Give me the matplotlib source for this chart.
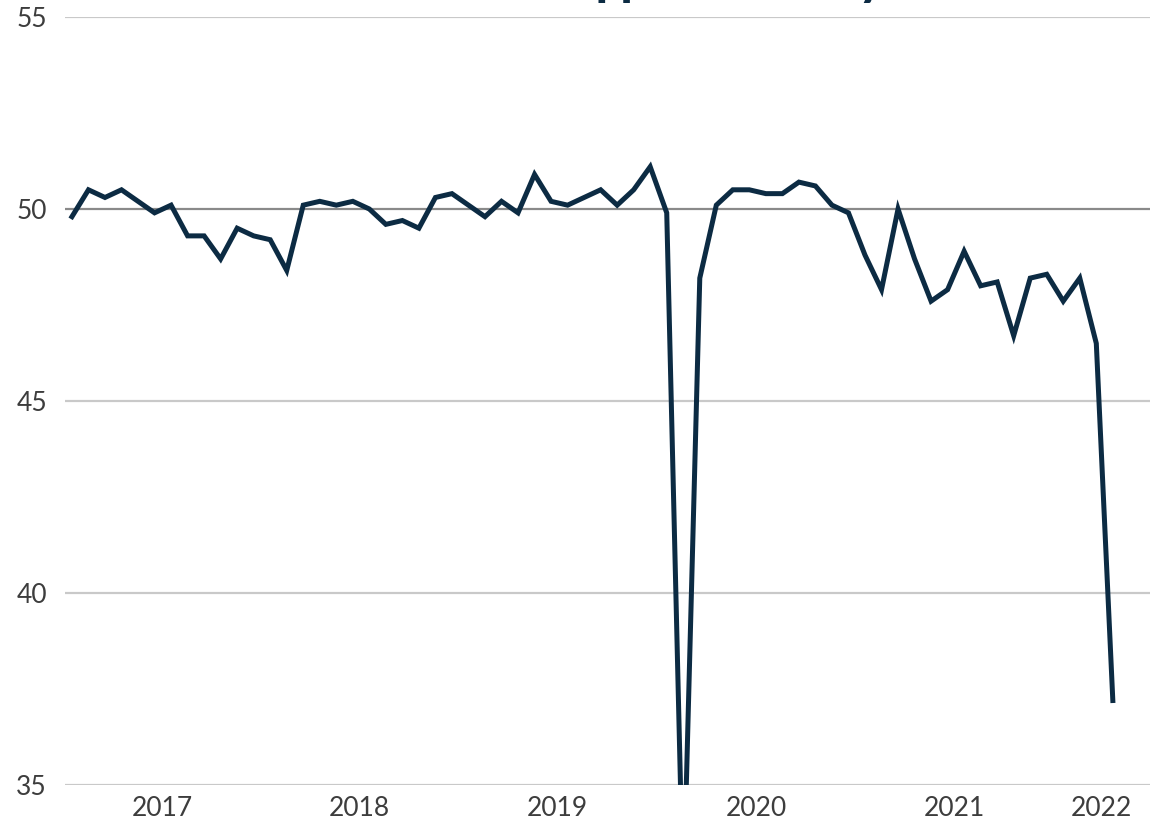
import matplotlib
matplotlib.use("Agg")
import matplotlib.pyplot as plt
import numpy as np

# ---- data ----
years = ["2017", "2018", "2019", "2020", "2021", "2022"]
start_year = 2017
# monthly values Jan 2017 .. Apr 2022
values_2017 = [49.8, 50.5, 50.3, 50.5, 50.2, 49.9, 50.1, 49.3, 49.3, 48.7, 49.5, 49.3]
values_2018 = [49.2, 48.4, 50.1, 50.2, 50.1, 50.2, 50.0, 49.6, 49.7, 49.5, 50.3, 50.4]
values_2019 = [50.1, 49.8, 50.2, 49.9, 50.9, 50.2, 50.1, 50.3, 50.5, 50.1, 50.5, 51.1]
values_2020 = [49.9, 32.0, 48.2, 50.1, 50.5, 50.5, 50.4, 50.4, 50.7, 50.6, 50.1, 49.9]
values_2021 = [48.8, 47.9, 50.0, 48.7, 47.6, 47.9, 48.9, 48.0, 48.1, 46.7, 48.2, 48.3]
values_2022 = [47.6, 48.2, 46.5, 37.2]
y_ticks = [35, 40, 45, 50, 55]
title = "Supplier Delivery"

values = values_2017 + values_2018 + values_2019 + values_2020 + values_2021 + values_2022
x = np.arange(len(values))

navy = "#0c2b43"
plt.rcParams["font.family"] = ["Lato", "DejaVu Sans"]

fig = plt.figure(figsize=(11.5, 8.19), dpi=100)
ax = fig.add_axes([65 / 1150, 34 / 819, 1 - 65 / 1150, (785 - 17) / 819])

xmin, xmax = -0.42, 65.25
ax.set_xlim(xmin, xmax)
ax.set_ylim(35, 55)

for t in y_ticks:
    if t == 50:
        ax.axhline(t, color="#8a8a8a", lw=1.6, zorder=1)
    else:
        ax.axhline(t, color="#c9c9c9", lw=1.6, zorder=1)

ax.plot(x, values, color=navy, lw=3.6, solid_joinstyle="miter", zorder=3)

ax.set_yticks(y_ticks)
ax.set_yticklabels([str(t) for t in y_ticks])

# year labels centred on the visible span of each year
centers = []
for i, _ in enumerate(years):
    s = max(12 * i - 0.6, xmin)
    e = min(12 * i + 11.4, xmax)
    centers.append((s + e) / 2)
ax.set_xticks(centers)
ax.set_xticklabels(years)

ax.tick_params(axis="both", length=0, labelsize=19, labelcolor="#3d3d3d")
ax.tick_params(axis="y", pad=13)
ax.tick_params(axis="x", pad=8)
for sp in ax.spines.values():
    sp.set_visible(False)

fig.text(548 / 1150, 1 + 4 / 819, title, ha="left", va="baseline",
         fontsize=31, fontweight="heavy", color=navy)

fig.savefig("out.png", dpi=100)
